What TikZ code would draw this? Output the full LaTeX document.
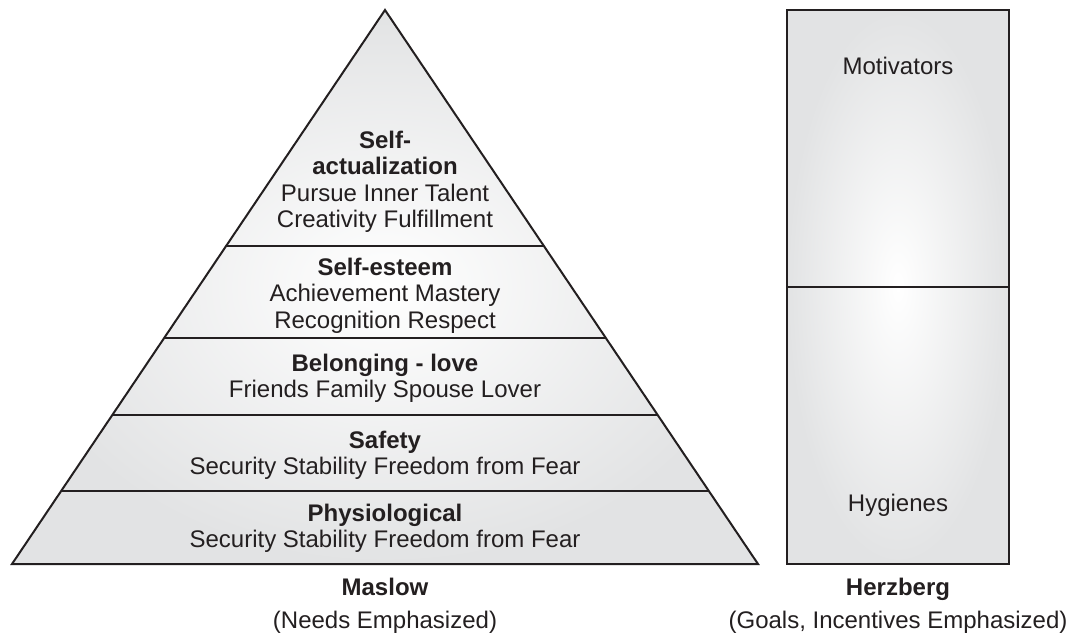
\documentclass[tikz,border=0pt]{standalone}
\usepackage{fontspec}
\setmainfont{Liberation Sans}
\usetikzlibrary{calc}
\definecolor{ink}{HTML}{231F20}
\definecolor{shadeout}{HTML}{E2E3E4}
\tikzset{
  lbl/.style={text=ink, font=\fontsize{24}{26.5}\selectfont, anchor=base, inner sep=0pt},
  bold/.style={lbl, font=\fontsize{24}{26.5}\selectfont\bfseries},
  edge/.style={draw=ink, line width=2pt, line join=miter},
  boxedge/.style={draw=ink, line width=1.6pt},
  softfill/.style={inner color=white, outer color=shadeout},
}
\begin{document}
\begin{tikzpicture}[x=1pt,y=-1pt]
\useasboundingbox (0,0) rectangle (1084,638);
% pyramid
\coordinate (apex) at (385,10);
\coordinate (bl) at (12,564);
\coordinate (br) at (758,564);
\shade[softfill] (apex) -- (br) -- (bl) -- cycle;
\foreach \t in {0.426,0.592,0.731,0.868}{
  \draw[edge] ($(apex)!\t!(bl)$) -- ($(apex)!\t!(br)$);
}
\draw[edge] (apex) -- (br) -- (bl) -- cycle;
% Herzberg box
\coordinate (rtl) at (787,10);
\coordinate (rbr) at (1009,564);
\shade[softfill] (rtl) rectangle (rbr);
\coordinate (dl) at (787,287);
\coordinate (dr) at (1009,287);
\draw[boxedge] (rtl) rectangle (rbr);
\draw[boxedge] (dl) -- (dr);
% pyramid texts
\node[bold] (sa1) at (385,148) {Self-};
\node[bold] (sa2) at (385,174.5) {actualization};
\node[lbl] (sa3) at (385,201) {Pursue Inner Talent};
\node[lbl] (sa4) at (385,227.5) {Creativity Fulfillment};
\node[bold] (se1) at (385,275) {Self-esteem};
\node[lbl] (se2) at (385,301.5) {Achievement Mastery};
\node[lbl] (se3) at (385,328) {Recognition Respect};
\node[bold] (bl1) at (385,371) {Belonging - love};
\node[lbl] (bl2) at (385,397.5) {Friends Family Spouse Lover};
\node[bold] (sf1) at (385,448) {Safety};
\node[lbl] (sf2) at (385,474.5) {Security Stability Freedom from Fear};
\node[bold] (ph1) at (385,521) {Physiological};
\node[lbl] (ph2) at (385,547.5) {Security Stability Freedom from Fear};
\node[bold] (mas) at (385,595) {Maslow};
\node[lbl] (mas2) at (385,628) {(Needs Emphasized)};
% Herzberg texts
\node[lbl] (mot) at (898,74) {Motivators};
\node[lbl] (hyg) at (898,511) {Hygienes};
\node[bold] (her) at (898,595) {Herzberg};
\node[lbl] (her2) at (898,628) {(Goals, Incentives Emphasized)};
\end{tikzpicture}
\end{document}
